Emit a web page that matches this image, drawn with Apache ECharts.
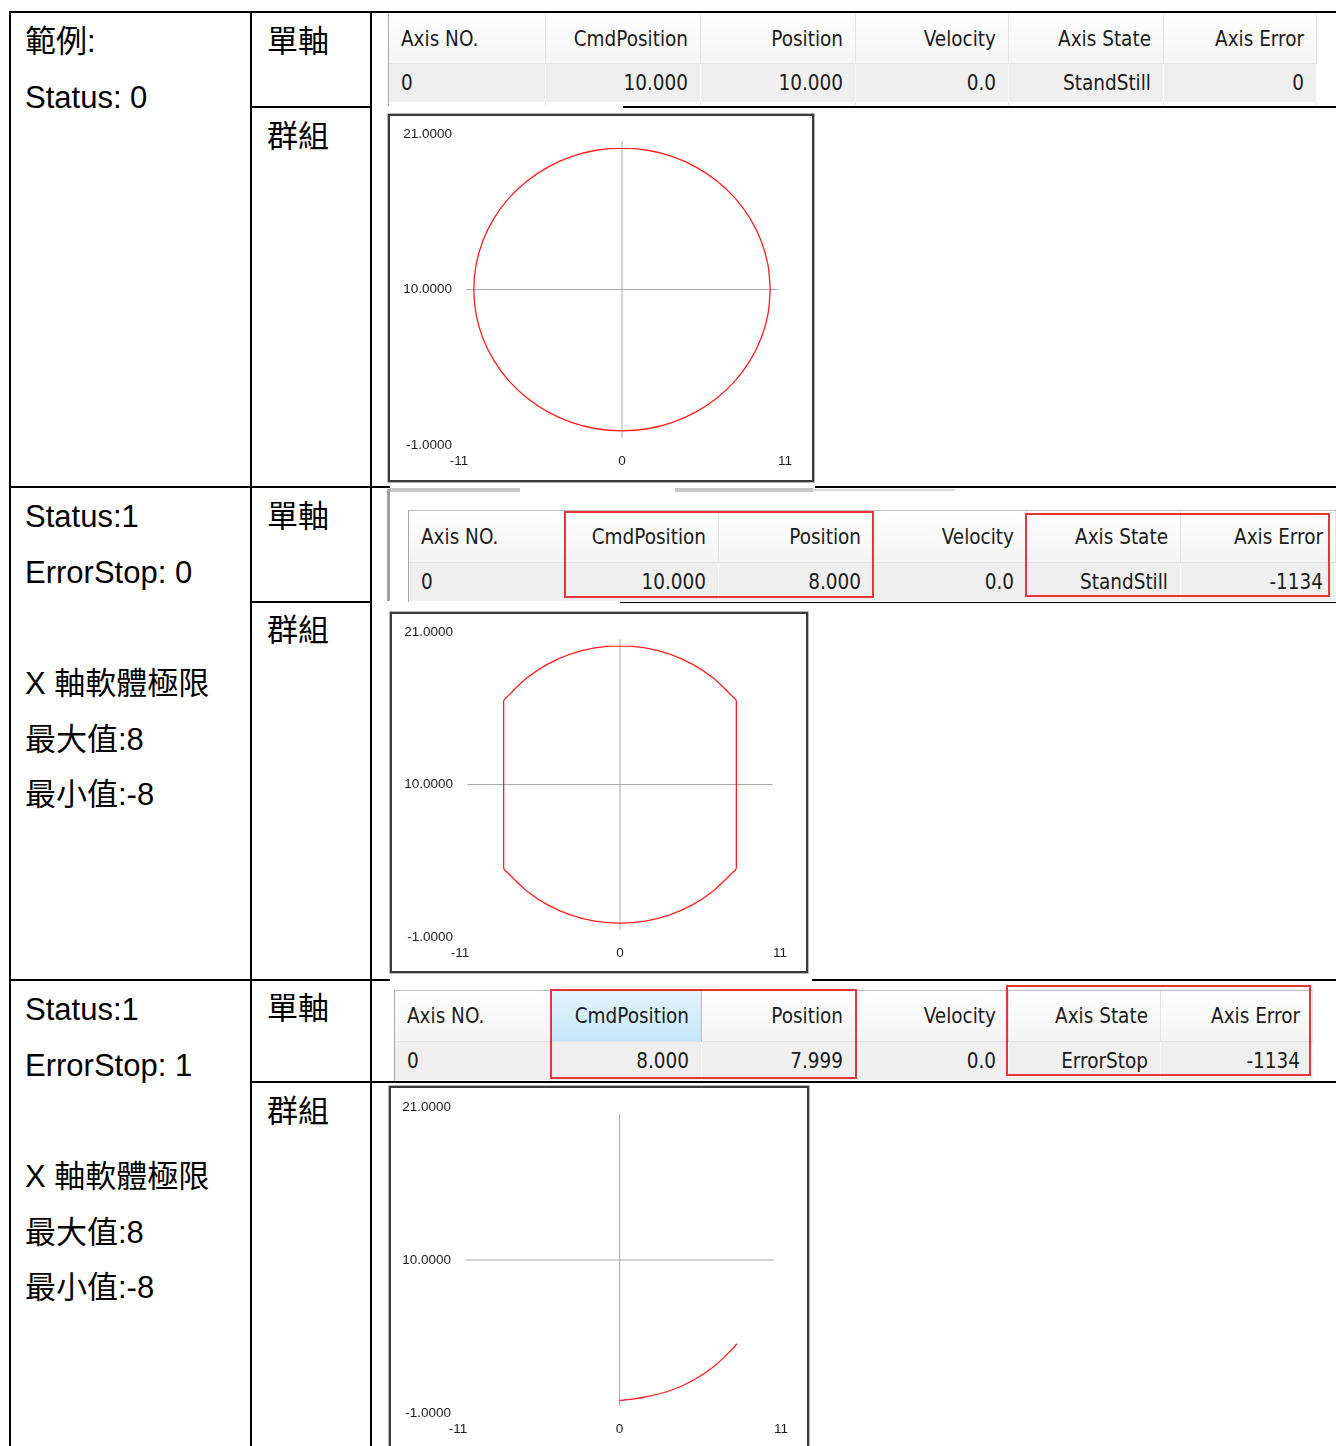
<!DOCTYPE html>
<html><head><meta charset="utf-8">
<script src="https://cdn.jsdelivr.net/npm/echarts@6/dist/echarts.min.js"></script>
<style>
html,body{margin:0;padding:0;background:#fff;}
body{width:1336px;height:1446px;position:relative;overflow:hidden;font-family:'Liberation Sans',Arial,'Noto Sans CJK TC',sans-serif;}
.ln{position:absolute;background:#000;}
.t{position:absolute;font-size:31px;line-height:40px;color:#000;white-space:nowrap;font-family:'Liberation Sans',Arial,'Noto Sans CJK TC',sans-serif;}
.tbl{position:absolute;font-family:'DejaVu Sans Condensed','DejaVu Sans',sans-serif;font-size:20.5px;color:#1b1b1b;}
.cell{position:absolute;top:0;bottom:0;box-sizing:border-box;padding:0 12px;white-space:nowrap;}
.box{position:absolute;box-sizing:border-box;border:2px solid #3a3a3a;box-shadow:0 0 0 1px #b8b8b8;pointer-events:none;}
.red{position:absolute;box-sizing:border-box;border:2px solid #e8353d;pointer-events:none;}
.chart{position:absolute;background:#fff;}
.bar{position:absolute;background:#c6c6c6;height:4px;}
</style>
</head><body>
<div id="doc"></div>
<div id="c1" class="chart" style="left:388px;top:114px;width:426px;height:368px;"></div>
<div class="box" style="left:388px;top:114px;width:426px;height:368px;"></div>
<div id="c2" class="chart" style="left:390px;top:612px;width:418px;height:361px;"></div>
<div class="box" style="left:390px;top:612px;width:418px;height:361px;"></div>
<div id="c3" class="chart" style="left:389px;top:1086px;width:420px;height:363px;"></div>
<div class="box" style="left:389px;top:1086px;width:420px;height:363px;"></div>
<script>
// ---------- data ----------
var xTicks = [-11, 0, 11];
var yTicks = [-1, 10, 21];
var crossH = [[-10.5, 10], [10.5, 10]];
var crossV = [[0, 20.5], [0, -0.5]];
// full circle trajectory (status 0)
var circlePath = [[10,10],[9.85,11.74],[9.40,13.42],[8.66,15.00],[7.66,16.43],[6.43,17.66],[5.00,18.66],[3.42,19.40],[1.74,19.85],[0,20],
 [-1.74,19.85],[-3.42,19.40],[-5.00,18.66],[-6.43,17.66],[-7.66,16.43],[-8.66,15.00],[-9.40,13.42],[-9.85,11.74],[-10,10],
 [-9.85,8.26],[-9.40,6.58],[-8.66,5.00],[-7.66,3.57],[-6.43,2.34],[-5.00,1.34],[-3.42,0.60],[-1.74,0.15],[0,0],
 [1.74,0.15],[3.42,0.60],[5.00,1.34],[6.43,2.34],[7.66,3.57],[8.66,5.00],[9.40,6.58],[9.85,8.26],[10,10]];
// trajectory clipped by soft limits (ErrorStop 0)
var clampedPath = [[8,10],[8,16],[7.66,16.43],[6.43,17.66],[5.00,18.66],[3.42,19.40],[1.74,19.85],[0,20],
 [-1.74,19.85],[-3.42,19.40],[-5.00,18.66],[-6.43,17.66],[-7.66,16.43],[-8,16],[-8,10],[-8,4],
 [-7.66,3.57],[-6.43,2.34],[-5.00,1.34],[-3.42,0.60],[-1.74,0.15],[0,0],
 [1.74,0.15],[3.42,0.60],[5.00,1.34],[6.43,2.34],[7.66,3.57],[8,4],[8,10]];
// trajectory stopped at limit (ErrorStop 1)
var stoppedPath = [[0,-0.1],[0.9,0.0],[1.74,0.15],[3.42,0.60],[5.00,1.34],[6.43,2.34],[7.66,3.57],[8,3.98]];

var tableHeaders = ['Axis NO.', 'CmdPosition', 'Position', 'Velocity', 'Axis State', 'Axis Error'];
var rowStatus0 = ['0', '10.000', '10.000', '0.0', 'StandStill', '0'];
var rowErrStop0 = ['0', '10.000', '8.000', '0.0', 'StandStill', '-1134'];
var rowErrStop1 = ['0', '8.000', '7.999', '0.0', 'ErrorStop', '-1134'];

var col1Texts = [
  [['範例:', 42], ['Status: 0', 98]],
  [['Status:1', 517], ['ErrorStop: 0', 573], ['X 軸軟體極限', 684], ['最大值:8', 740], ['最小值:-8', 795]],
  [['Status:1', 1010], ['ErrorStop: 1', 1066], ['X 軸軟體極限', 1177], ['最大值:8', 1233], ['最小值:-8', 1288]]
];
var col2Texts = [['單軸', 42], ['群組', 137], ['單軸', 517], ['群組', 631], ['單軸', 1009], ['群組', 1112]];

// ---------- document frame ----------
var doc = document.getElementById('doc');
function add(cls, css, html) {
  var d = document.createElement('div');
  d.className = cls;
  d.style.cssText = css;
  if (html != null) d.textContent = html;
  doc.appendChild(d);
  return d;
}
function hline(x1, x2, y) { add('ln', 'left:' + x1 + 'px;top:' + (y - 1) + 'px;width:' + (x2 - x1) + 'px;height:2px;'); }
function vline(x, y1, y2) { add('ln', 'left:' + (x - 1) + 'px;top:' + y1 + 'px;width:2px;height:' + (y2 - y1) + 'px;'); }
vline(10, 11, 1446); vline(251, 11, 1446); vline(371, 11, 1446);
hline(9, 1336, 12);
hline(251, 372, 107); hline(623, 1336, 107);
hline(9, 390, 487); hline(815, 1336, 487);
hline(251, 372, 602); hline(620, 1336, 602);
hline(9, 390, 980); hline(812, 1336, 980);
hline(251, 1336, 1082);

col1Texts.forEach(function (grp) {
  grp.forEach(function (t) { add('t', 'left:25px;top:' + (t[1] - 20) + 'px;', t[0]); });
});
col2Texts.forEach(function (t) { add('t', 'left:267px;top:' + (t[1] - 20) + 'px;', t[0]); });

// scrollbar remnants of the screenshot
add('bar', 'left:390px;top:488px;width:130px;');
add('bar', 'left:675px;top:488px;width:138px;');
add('bar', 'left:813px;top:489px;width:142px;background:#d8d8d8;height:2px;');

// ---------- screenshot tables ----------
function buildTable(cfg) {
  var total = cfg.cols.reduce(function (a, b) { return a + b; }, 0);
  var t = add('tbl', 'left:' + cfg.left + 'px;top:' + cfg.top + 'px;width:' + total + 'px;height:' +
    (cfg.hh + cfg.rh + cfg.ph) + 'px;background:#fff;border-left:1px solid #a9a9a9;' +
    (cfg.topBorder ? 'border-top:1px solid #bdbdbd;' : ''));
  var bands = [
    { top: 0, h: cfg.hh, vals: tableHeaders, bg: 'linear-gradient(#ffffff,#f4f4f4)', sep: '#e3e3e3' },
    { top: cfg.hh, h: cfg.rh, vals: cfg.values, bg: '#efefef', sep: '#fafafa' },
    { top: cfg.hh + cfg.rh, h: cfg.ph, vals: null, bg: '#ffffff', sep: '#e6e6e6' }
  ];
  bands.forEach(function (b, bi) {
    var x = 0;
    cfg.cols.forEach(function (w, i) {
      var c = document.createElement('div');
      c.className = 'cell';
      var bg = b.bg;
      if (bi === 0 && cfg.hl === i) bg = 'linear-gradient(#e3f4fd,#c6e7f8)';
      c.style.cssText = 'left:' + x + 'px;top:' + b.top + 'px;height:' + b.h + 'px;width:' + w + 'px;line-height:' + b.h +
        'px;background:' + bg + ';border-right:1px solid ' + (bi === 0 && cfg.hl === i ? '#8cc7e6' : b.sep) + ';' +
        (bi === 0 ? 'border-bottom:1px solid #e4e4e4;' : '') + 'text-align:' + (i === 0 ? 'left' : 'right') + ';';
      if (b.vals) c.textContent = b.vals[i];
      t.appendChild(c);
      x += w;
    });
  });
}
buildTable({ left: 388, top: 14, cols: [157, 155, 155, 153, 155, 153], hh: 50, rh: 38, ph: 4, values: rowStatus0 });
add('', 'position:absolute;left:387px;top:489px;width:3px;height:112px;background:#a0a0a0;');
buildTable({ left: 408, top: 510, cols: [156, 154, 155, 153, 154, 155], hh: 52, rh: 38, ph: 1, values: rowErrStop0, topBorder: true });
buildTable({ left: 394, top: 990, cols: [156, 151, 154, 153, 152, 152], hh: 51, rh: 38, ph: 1, values: rowErrStop1, topBorder: true, hl: 1 });

add('red', 'left:564px;top:511px;width:310px;height:87px;');
add('red', 'left:1025px;top:513px;width:305px;height:84px;');
add('red', 'left:550px;top:989px;width:307px;height:90px;');
add('red', 'left:1006px;top:985px;width:305px;height:91px;');

// ---------- ECharts plots ----------
function makeChart(id, grid, path) {
  var ch = echarts.init(document.getElementById(id), null, { renderer: 'canvas' });
  var lab = { color: '#1c1c1c', fontSize: 13.5, fontFamily: 'Liberation Sans, Arial, sans-serif' };
  ch.setOption({
    animation: false,
    backgroundColor: '#ffffff',
    grid: grid,
    xAxis: {
      type: 'value', min: -11, max: 11,
      axisLine: { show: false }, axisTick: { show: false }, splitLine: { show: false },
      axisLabel: Object.assign({ customValues: xTicks, margin: 9, formatter: function (v) { return String(v); } }, lab)
    },
    yAxis: {
      type: 'value', min: -1, max: 21,
      axisLine: { show: false }, axisTick: { show: false }, splitLine: { show: false },
      axisLabel: Object.assign({ customValues: yTicks, margin: 7, formatter: function (v) { return v.toFixed(4); } }, lab)
    },
    series: [
      { type: 'line', data: crossH, symbol: 'none', silent: true, lineStyle: { color: '#a9a9a9', width: 1 } },
      { type: 'line', data: crossV, symbol: 'none', silent: true, lineStyle: { color: '#a9a9a9', width: 1 } },
      { type: 'line', data: path, symbol: 'none', silent: true, smooth: 0.3, lineStyle: { color: '#ff1e1e', width: 1.3 } }
    ]
  });
}
makeChart('c1', { left: 71, right: 29, top: 20, bottom: 37 }, circlePath);
makeChart('c2', { left: 70, right: 28, top: 20, bottom: 36 }, clampedPath);
makeChart('c3', { left: 69, right: 28, top: 21, bottom: 36 }, stoppedPath);
</script>
</body></html>
